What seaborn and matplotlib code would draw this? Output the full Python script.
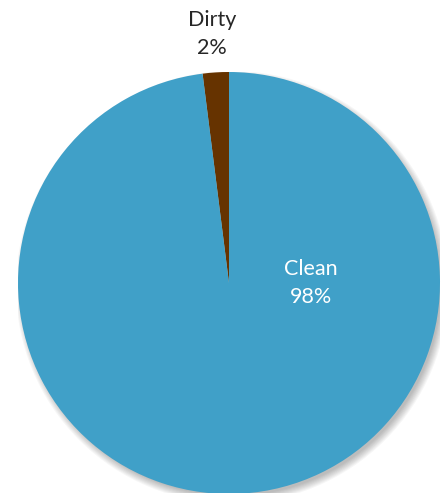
import seaborn as sns
import matplotlib.pyplot as plt
from matplotlib.patches import Circle

# data
labels = ['Dirty', 'Clean']
shares = [2, 98]
colors = ['#663300', '#40A0C8']

sns.set_theme(style='white')
plt.rcParams['font.family'] = ['Lato', 'DejaVu Sans']

fig = plt.figure(figsize=(4.41, 4.93), dpi=100)
fig.patch.set_facecolor('white')
# axes sized so the pie fills the frame like the reference
ax = fig.add_axes([18 / 441, -1 / 493, 422 / 441, 422 / 493])

# soft drop shadow, mostly towards bottom-right
for k in range(8):
    ax.add_patch(Circle((0.015, -0.02), 0.99 + k * 0.005, color='black',
                        alpha=0.035, lw=0, zorder=0))

wedges, _ = ax.pie(shares, colors=colors, startangle=90, counterclock=True,
                   wedgeprops=dict(linewidth=0), radius=1)
for w in wedges:
    w.set_zorder(2)

ax.text(-0.08, 1.18, f'{labels[0]}\n{shares[0]}%', ha='center', va='center',
        fontsize=15.5, color='#262626', linespacing=1.5, clip_on=False)
ax.text(0.39, 0.0, f'{labels[1]}\n{shares[1]}%', ha='center', va='center',
        fontsize=15.5, color='white', linespacing=1.5, zorder=3)

ax.set_xlim(-1, 1)
ax.set_ylim(-1, 1)
ax.set_aspect('equal')
ax.axis('off')

fig.savefig('out.png', dpi=100, facecolor='white')
